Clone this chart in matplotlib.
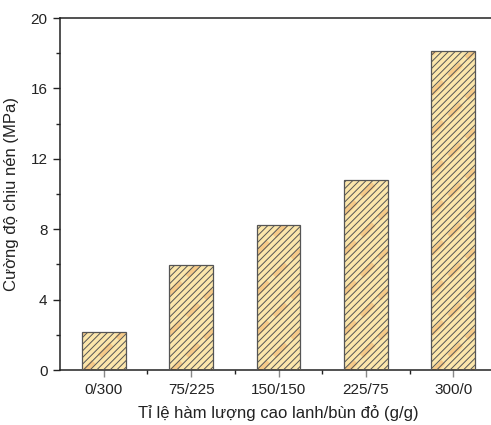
import numpy as np
import matplotlib.pyplot as plt
from matplotlib.ticker import MultipleLocator, FixedLocator
from matplotlib.collections import LineCollection

plt.rcParams['font.family'] = ['Liberation Sans', 'DejaVu Sans']
plt.rcParams['hatch.color'] = '#4d4d40'
plt.rcParams['hatch.linewidth'] = 0.7

# ti le cao lanh / bun do
categories = ["0/300", "75/225", "150/150", "225/75", "300/0"]
strength = [2.14, 5.95, 8.24, 10.8, 18.14]

fig = plt.figure(figsize=(4.91, 4.25), dpi=100)
ax = fig.add_axes([60 / 491, 55 / 425, 437 / 491, 352 / 425])

x = np.arange(len(categories))
# face first, then the orange streaks, then hatch + edge on top
bars = ax.bar(x, strength, width=0.5, color='#fbe6ab', linewidth=0, zorder=2)
ax.bar(x, strength, width=0.5, facecolor='none', edgecolor='#555555',
       linewidth=0.9, hatch='/////', zorder=3)

ax.set_xlim(-0.5, 4.5)
ax.set_ylim(0, 20)

# orange diagonal streaks inside the bars (decorative, 45 deg in pixels)
px_x = 437 / 5.0
px_y = 352 / 20.0
slope = px_x / px_y
for b in bars:
    x0 = b.get_x()
    w = b.get_width()
    h = b.get_height()
    segs = []
    step = 40 / px_y
    for k in np.arange(-slope * w, h + step, step):
        segs.append([(x0, k), (x0 + w, k + slope * w)])
    lc = LineCollection(segs, colors='#f3b46c', linewidths=4, alpha=0.55,
                        linestyles=(0, (3, 1.5)), zorder=2.5)
    ax.add_collection(lc)
    lc.set_clip_path(b.get_path(), b.get_transform())

ax.set_xticks(x)
ax.set_xticklabels(categories)
ax.xaxis.set_minor_locator(FixedLocator(x[:-1] + 0.5))
ax.yaxis.set_major_locator(MultipleLocator(4))
ax.yaxis.set_minor_locator(MultipleLocator(2))

ax.tick_params(axis='both', which='major', direction='out', length=5, width=1,
               labelsize=11, colors='#222222', pad=4)
ax.tick_params(axis='x', which='major', color='#888888', labelcolor='#222222')
ax.tick_params(axis='both', which='minor', direction='out', length=3, width=1,
               color='#222222')
ax.tick_params(top=False, right=False, which='both')

for s in ax.spines.values():
    s.set_color('#222222')
    s.set_linewidth(1.1)

ax.set_xlabel("Tỉ lệ hàm lượng cao lanh/bùn đỏ (g/g)", fontsize=12, labelpad=6,
              color='#222222')
ax.set_ylabel("Cường độ chịu nén (MPa)", fontsize=12, labelpad=8, color='#222222')

fig.savefig('out.png', dpi=100)
